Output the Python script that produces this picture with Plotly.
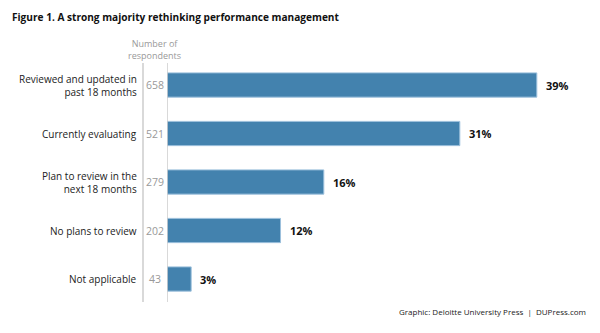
import plotly.graph_objects as go

categories = ["Reviewed and updated in<br>past 18 months", "Currently evaluating",
              "Plan to review in the<br>next 18 months", "No plans to review", "Not applicable"]
respondents = [658, 521, 279, 202, 43]
percent_labels = ["39%", "31%", "16%", "12%", "3%"]

W, H = 600, 333
FONT = "Open Sans"
BAR = "#4382ae"

fig = go.Figure()
fig.add_trace(go.Bar(
    y=categories, x=respondents, orientation="h", width=0.5,
    marker=dict(color=BAR, line=dict(color="#9cc0dc", width=1)),
    hoverinfo="skip",
))

ann = []
for c, n, p in zip(categories, respondents, percent_labels):
    ann.append(dict(x=n, y=c, xref="x", yref="y", text="<b>%s</b>" % p, showarrow=False,
                    xanchor="left", xshift=7, font=dict(size=11, color="#111", family=FONT)))
    ann.append(dict(x=155 / W, y=c, xref="paper", yref="y", text=str(n), showarrow=False,
                    xanchor="center", font=dict(size=10.5, color="#999", family=FONT)))
    ann.append(dict(x=139 / W, y=c, xref="paper", yref="y", text=c, showarrow=False,
                    xanchor="right", align="right", font=dict(size=10, color="#222", family=FONT)))

ann.append(dict(x=10 / W, y=1 - 17 / H, xref="paper", yref="paper", xanchor="left", yanchor="middle",
                text="<b>Figure 1. A strong majority rethinking performance management</b>", showarrow=False,
                font=dict(size=10.1, color="#111", family=FONT)))
ann.append(dict(x=154 / W, y=1 - 50 / H, xref="paper", yref="paper", xanchor="center", yanchor="middle",
                text="Number of<br>respondents", showarrow=False,
                font=dict(size=9, color="#999", family=FONT)))
ann.append(dict(x=588 / W, y=1 - 311 / H, xref="paper", yref="paper", xanchor="right", yanchor="middle",
                text="Graphic: Deloitte University Press  |  DUPress.com", showarrow=False,
                font=dict(size=8, color="#222", family=FONT)))

shapes = [
    dict(type="line", xref="paper", yref="paper", x0=143 / W, x1=143 / W, y0=1 - 63 / H, y1=1 - 302 / H,
         line=dict(color="#cccccc", width=1.5)),
    dict(type="line", xref="x", yref="paper", x0=0, x1=0, y0=1 - 63 / H, y1=1 - 302 / H,
         line=dict(color="#cccccc", width=1.5)),
]

fig.update_layout(
    width=W, height=H, margin=dict(l=0, r=0, t=0, b=0),
    paper_bgcolor="white", plot_bgcolor="white", showlegend=False,
    xaxis=dict(domain=[167 / W, 1], range=[0, 433 / 0.562], visible=False, fixedrange=True),
    yaxis=dict(domain=[1 - 303.25 / H, 1 - 60.75 / H], autorange="reversed", visible=False,
               fixedrange=True),
    annotations=ann, shapes=shapes,
)
fig.write_html("out.html")
